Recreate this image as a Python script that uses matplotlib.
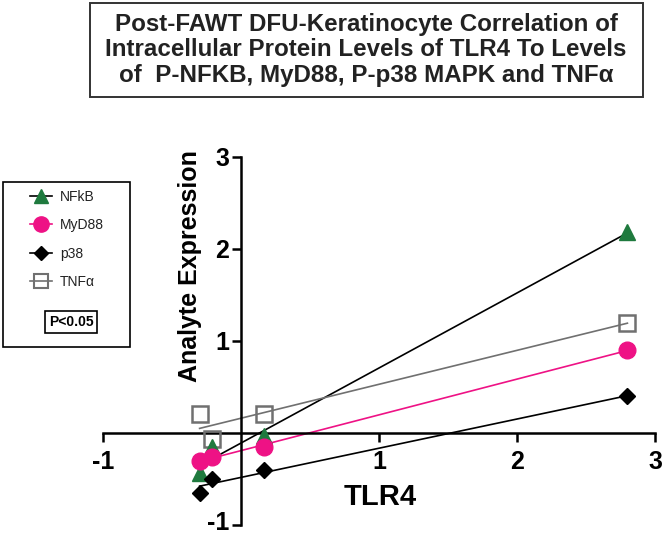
"""Post-FAWT DFU keratinocyte correlation of TLR4 to downstream analytes."""

import matplotlib

matplotlib.use("Agg")

import matplotlib.pyplot as plt  # noqa: E402
import matplotlib.transforms as mtransforms  # noqa: E402
import numpy as np  # noqa: E402
from matplotlib.lines import Line2D  # noqa: E402
from matplotlib.patches import Rectangle  # noqa: E402

plt.rcParams["font.family"] = ["Liberation Sans", "DejaVu Sans"]

# TLR4 levels (x) and analyte levels
tlr4 = [-0.30, -0.21, 0.17, 2.80]
nfkb = [-0.43, -0.15, -0.03, 2.18]
myd88 = [-0.30, -0.26, -0.15, 0.90]
p38 = [-0.65, -0.50, -0.40, 0.40]
tnfa = [0.21, -0.07, 0.21, 1.20]

series_names = ["NFkB", "MyD88", "p38", "TNFα"]
x_ticks = [-1, 1, 2, 3]
y_ticks = [-1, 1, 2, 3]

title_text = (
    "Post-FAWT DFU-Keratinocyte Correlation of\n"
    "Intracellular Protein Levels of TLR4 To Levels\n"
    "of  P-NFKB, MyD88, P-p38 MAPK and TNFα"
)

GREEN = "#1f7a3e"
PINK = "#ee1285"
GREY = "#707070"


def fit_line(ax, x, y, color):
    x = np.asarray(x)
    slope, intercept = np.polyfit(x, y, 1)
    xs = np.array([x.min(), x.max()])
    ax.plot(xs, slope * xs + intercept, color=color, lw=1.2, zorder=2)


def main() -> None:
    fig = plt.figure(figsize=(6.64, 5.35), dpi=100)
    ax = fig.add_axes([103 / 664, 10 / 535, 552 / 664, 368 / 535])

    fit_line(ax, tlr4, nfkb, "black")
    fit_line(ax, tlr4, myd88, PINK)
    fit_line(ax, tlr4, p38, "black")
    fit_line(ax, tlr4, tnfa, GREY)

    ax.plot(tlr4, tnfa, ls="none", marker="s", ms=11, mfc="none",
            mec=GREY, mew=1.8, zorder=3, clip_on=False)
    ax.plot(tlr4, nfkb, ls="none", marker="^", ms=11, color=GREEN,
            zorder=4, clip_on=False)
    ax.plot(tlr4, myd88, ls="none", marker="o", ms=12, color=PINK,
            zorder=5, clip_on=False)
    ax.plot(tlr4, p38, ls="none", marker="D", ms=8, color="black",
            zorder=6, clip_on=False)

    ax.set_xlim(-1, 3)
    ax.set_ylim(-1, 3)
    for side in ["top", "right"]:
        ax.spines[side].set_visible(False)
    ax.spines["left"].set_position(("data", 0))
    ax.spines["bottom"].set_position(("data", 0))
    for side in ["left", "bottom"]:
        ax.spines[side].set_linewidth(1.8)
    ax.set_xticks(x_ticks)
    ax.set_yticks(y_ticks)
    ax.set_xticklabels([str(t) for t in x_ticks])
    ax.set_yticklabels([str(t) for t in y_ticks])
    ax.tick_params(length=6.5, width=1.8, labelsize=18)
    ax.tick_params(axis="x", pad=6)
    ax.tick_params(axis="y", pad=2)
    for label in ax.get_xticklabels() + ax.get_yticklabels():
        label.set_fontweight("bold")
    # nudge the bottom y label up a little so it stays inside the figure
    bottom_label = ax.get_yticklabels()[0]
    shift = mtransforms.ScaledTranslation(0, 3 / 72, fig.dpi_scale_trans)
    bottom_label.set_transform(bottom_label.get_transform() + shift)

    fig.text(380 / 664, 1 - 497 / 535, "TLR4", fontsize=21, fontweight="bold",
             ha="center", va="center")
    fig.text(190 / 664, 1 - 266 / 535, "Analyte Expression", fontsize=18,
             fontweight="bold", rotation=90, ha="center", va="center")

    # title in a box
    fig.patches.append(Rectangle((90 / 664, 1 - 97 / 535), 553 / 664, 94 / 535,
                                 transform=fig.transFigure, fill=False,
                                 ec="#333333", lw=1.4))
    fig.text(366 / 664, 1 - 50 / 535, title_text, fontsize=17.4,
             fontweight="bold", ha="center", va="center", linespacing=1.13,
             color="#222222")

    # legend box with significance note
    fig.patches.append(Rectangle((3 / 664, 1 - 347 / 535), 127 / 664, 165 / 535,
                                 transform=fig.transFigure, fill=False,
                                 ec="black", lw=1.2))
    handles = [
        Line2D([], [], color="black", marker="^", ms=10, mfc=GREEN,
               mec=GREEN, lw=1.2),
        Line2D([], [], color=PINK, marker="o", ms=11, mfc=PINK, mec=PINK,
               lw=1.2),
        Line2D([], [], color="black", marker="D", ms=7, lw=1.2),
        Line2D([], [], color=GREY, marker="s", ms=10, mfc="none", mec=GREY,
               mew=1.5, lw=1.2),
    ]
    fig.legend(handles, series_names, loc="upper left",
               bbox_to_anchor=(24 / 664, 1 - 184 / 535), frameon=False,
               fontsize=10, handlelength=1.6, labelspacing=1.05,
               handletextpad=0.6, borderaxespad=0, labelcolor="#222222")
    fig.text(71 / 664, 1 - 322 / 535, "P<0.05", fontsize=10, fontweight="bold",
             ha="center", va="center",
             bbox=dict(boxstyle="square,pad=0.3", fc="white", ec="black",
                       lw=1.2))

    fig.savefig("out.png", dpi=100)
    plt.close(fig)


if __name__ == "__main__":
    main()
